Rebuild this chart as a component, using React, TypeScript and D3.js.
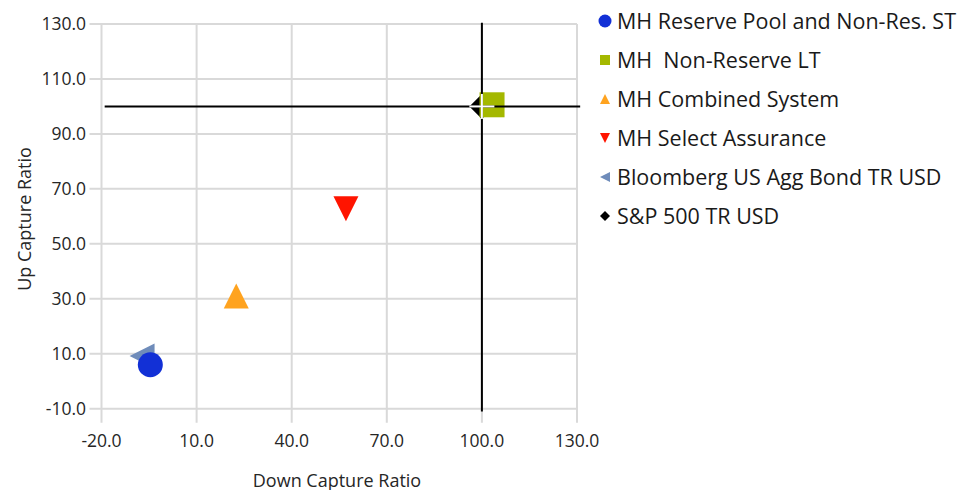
import React from "react";
import * as d3 from "d3";

const seriesNames = [
  "MH Reserve Pool and Non-Res. ST",
  "MH  Non-Reserve LT",
  "MH Combined System",
  "MH Select Assurance",
  "Bloomberg US Agg Bond TR USD",
  "S&P 500 TR USD",
];
const downCapture = [-4.6, 103.2, 22.5, 57.1, -7.2, 100.0];
const upCapture = [6.0, 100.6, 31.0, 62.8, 9.2, 100.0];
const seriesColors = ["#1230d6", "#a4b800", "#ffa31f", "#ff1400", "#6f8cba", "#000000"];
const seriesShapes = ["circle", "square", "triUp", "triDown", "triLeft", "diamond"];
const xTicks = [-20, 10, 40, 70, 100, 130];
const yTicks = [-10, 10, 30, 50, 70, 90, 110, 130];
const refX = 100;
const refY = 100;

const W = 967;
const H = 490;
const FONT = "'Open Sans', 'Noto Sans', sans-serif";

function shapePath(shape: string, cx: number, cy: number, s: number): string {
  const h = s / 2;
  const p = d3.path();
  switch (shape) {
    case "circle":
      p.arc(cx, cy, h, 0, Math.PI * 2);
      break;
    case "square":
      p.rect(cx - h, cy - h, s, s);
      break;
    case "triUp":
      p.moveTo(cx, cy - h);
      p.lineTo(cx + h, cy + h);
      p.lineTo(cx - h, cy + h);
      p.closePath();
      break;
    case "triDown":
      p.moveTo(cx - h, cy - h);
      p.lineTo(cx + h, cy - h);
      p.lineTo(cx, cy + h);
      p.closePath();
      break;
    case "triLeft":
      p.moveTo(cx - h, cy);
      p.lineTo(cx + h, cy - h);
      p.lineTo(cx + h, cy + h);
      p.closePath();
      break;
    case "diamond":
      p.moveTo(cx, cy - h);
      p.lineTo(cx + h, cy);
      p.lineTo(cx, cy + h);
      p.lineTo(cx - h, cy);
      p.closePath();
      break;
  }
  return p.toString();
}

export default function App() {
  const x = d3.scaleLinear().domain([-20, 130]).range([101.5, 577]);
  const y = d3.scaleLinear().domain([-10, 130]).range([408.7, 24]);
  const fmt = (v: number) => v.toFixed(1);

  const order = d3.range(seriesNames.length).reverse();

  return (
    <svg
      width={W}
      height={H}
      style={{ position: "absolute", left: 0, top: 0, background: "#fff" }}
      fontFamily={FONT}
    >
      {/* grid */}
      {yTicks.map((t) => (
        <line key={"gy" + t} x1={x(-20) - 12} x2={x(130)} y1={y(t)} y2={y(t)} stroke="#d9d9d9" strokeWidth={2} />
      ))}
      {xTicks.map((t) => (
        <line key={"gx" + t} x1={x(t)} x2={x(t)} y1={y(130)} y2={y(-10) + 14} stroke="#d9d9d9" strokeWidth={2} />
      ))}
      {/* tick labels */}
      {yTicks.map((t) => (
        <text key={"ly" + t} x={86} y={y(t)} dy="0.36em" textAnchor="end" fontSize={17.5} fill="#262626">
          {fmt(t)}
        </text>
      ))}
      {xTicks.map((t) => (
        <text key={"lx" + t} x={x(t)} y={441} dy="0.36em" textAnchor="middle" fontSize={17.5} fill="#262626">
          {fmt(t)}
        </text>
      ))}
      {/* axis titles */}
      <text x={337} y={487} textAnchor="middle" fontSize={18} fill="#262626">
        Down Capture Ratio
      </text>
      <text
        transform={`translate(31,219) rotate(-90)`}
        textAnchor="middle"
        fontSize={18}
        fill="#262626"
      >
        Up Capture Ratio
      </text>
      {/* markers */}
      {order.map((i) => (
        <path
          key={"m" + i}
          d={shapePath(seriesShapes[i], x(downCapture[i]), y(upCapture[i]), 25)}
          fill={seriesColors[i]}
        />
      ))}
      {/* reference lines */}
      <line x1={x(-19)} x2={x(131)} y1={y(refY)} y2={y(refY)} stroke="#000" strokeWidth={2} />
      <line x1={x(refX)} x2={x(refX)} y1={y(130.5)} y2={y(-11)} stroke="#000" strokeWidth={2} />
      <line x1={x(refX) - 12.5} x2={x(refX) + 12.5} y1={y(refY)} y2={y(refY)} stroke="#fff" strokeWidth={2} />
      <line x1={x(refX)} x2={x(refX)} y1={y(refY) - 12.5} y2={y(refY) + 12.5} stroke="#fff" strokeWidth={2} />
      {/* legend */}
      {seriesNames.map((name, i) => {
        const cy = 21 + i * 39;
        return (
          <g key={"lg" + i}>
            <path d={shapePath(seriesShapes[i], 605, cy, seriesShapes[i] === "circle" ? 13 : 10)} fill={seriesColors[i]} />
            <text x={617} y={cy + 7.8} fontSize={21.5} fill="#1a1a1a" style={{ whiteSpace: "pre" }}>
              {name}
            </text>
          </g>
        );
      })}
    </svg>
  );
}
